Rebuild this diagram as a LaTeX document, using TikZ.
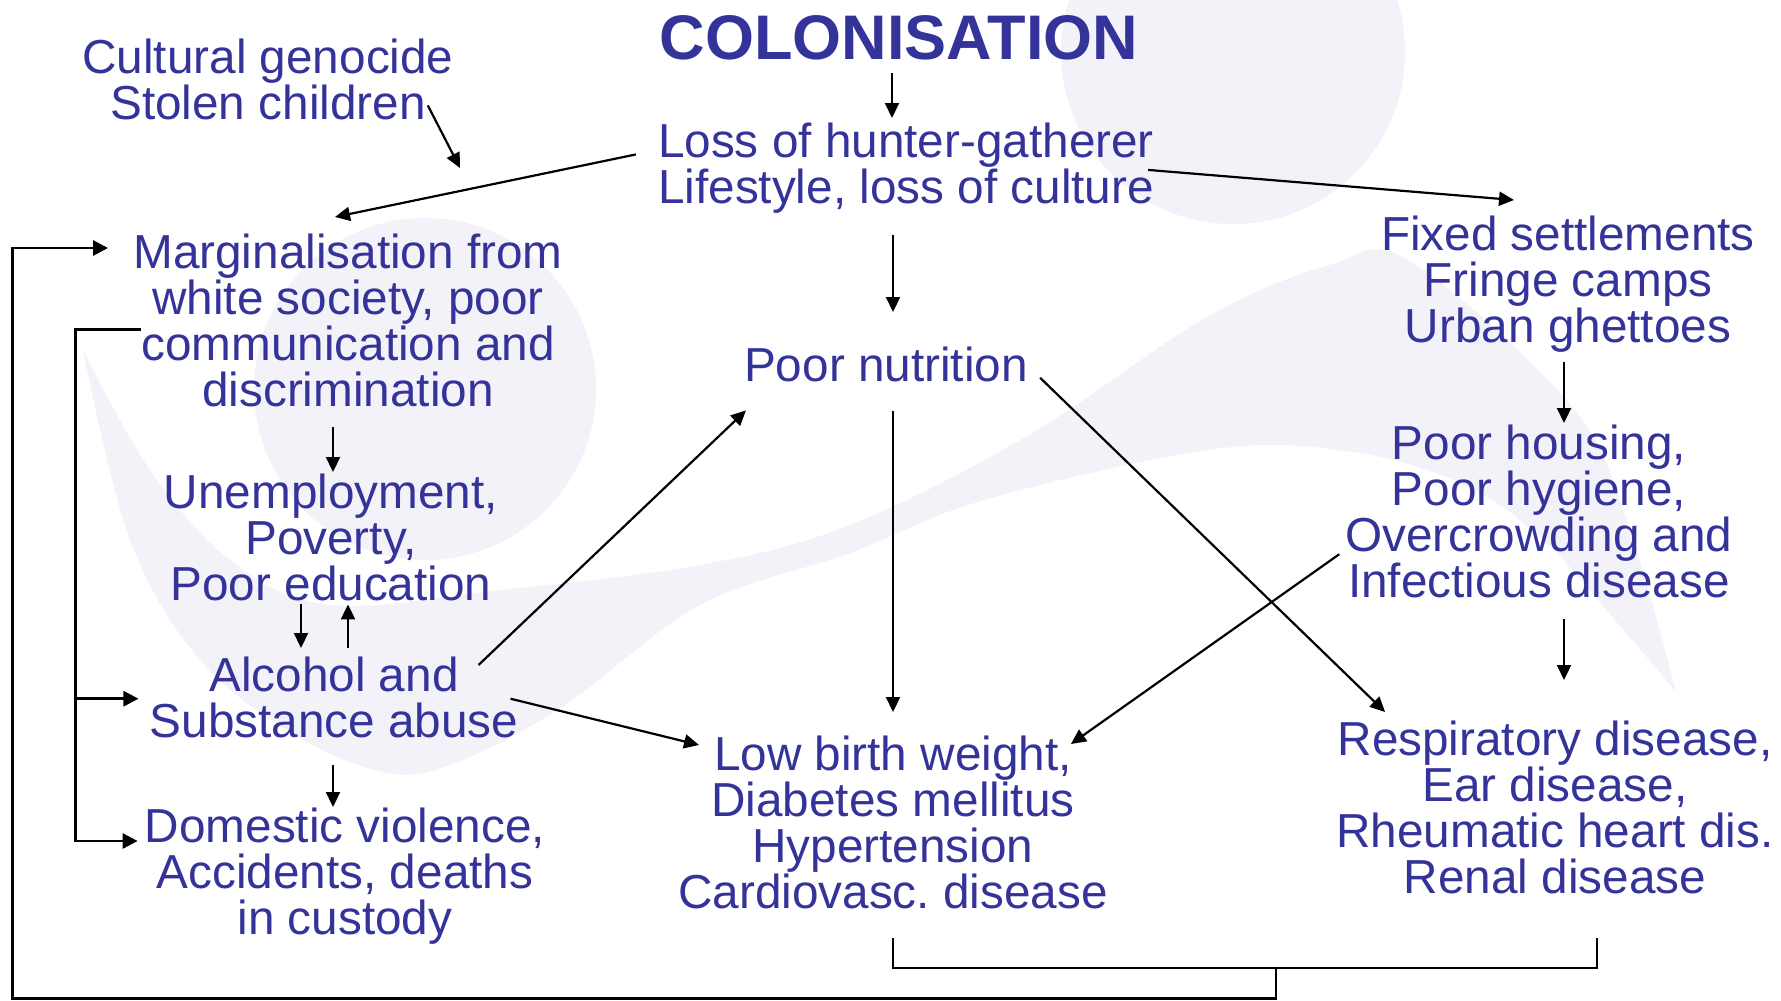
\documentclass[tikz,border=0pt]{standalone}
\usepackage{fontspec}
\setmainfont{Liberation Sans}
\usetikzlibrary{arrows.meta,calc}
\definecolor{blueT}{RGB}{51,51,153}
\definecolor{bgc}{RGB}{243,242,249}
\frenchspacing
\begin{document}
\begin{tikzpicture}[x=1pt,y=-1pt,
  txt/.style={font=\fontsize{47.7}{46}\selectfont, text=blueT, align=center, inner sep=0pt, anchor=north},
  arr/.style={line width=2.2pt, -{Triangle[length=15pt,width=14pt]}},
  brk/.style={line width=2.8pt},
  brkarr/.style={line width=2.8pt, -{Triangle[length=15pt,width=15pt]}}]
\useasboundingbox (0,0) rectangle (1781,1001);
\fill[white] (0,0) rectangle (1781,1001);
% background watermark
\fill[bgc] (1233,52) circle (172);
\fill[bgc] (425,389) circle (171);
\fill[bgc] plot[smooth, tension=0.6] coordinates {(83,350) (150,470) (230,560) (330,605) (500,590) (700,565) (850,525) (1029,435) (1207,317) (1330,265) (1408,260) (1569,403) (1626,518) (1676,692)}
  -- plot[smooth, tension=0.6] coordinates {(1676,692) (1626,633) (1540,537) (1454,480) (1339,450) (1207,450) (984,500) (850,553) (700,605) (562,707) (450,765) (384,772) (295,735) (200,660) (130,540) (83,350)} -- cycle;

% nodes
\node[txt, font=\fontsize{63}{63}\selectfont\bfseries] (title) at (899,15) {COLONISATION};
\node[txt] (cult) at (268,39) {Cultural genocide\\Stolen children};
\node[txt] (loss) at (906,123) {Loss of hunter-gatherer\\Lifestyle, loss of culture};
\node[txt] (marg) at (348,234) {Marginalisation from\\white society, poor\\communication and\\discrimination};
\node[txt] (pn) at (886,347) {Poor nutrition};
\node[txt] (fixed) at (1568,216) {Fixed settlements\\Fringe camps\\Urban ghettoes};
\node[txt] (unemp) at (331,474) {Unemployment,\\Poverty,\\Poor education};
\node[txt] (housing) at (1539,425) {Poor housing,\\Poor hygiene,\\Overcrowding and\\Infectious disease};
\node[txt] (alc) at (334,657) {Alcohol and\\Substance abuse};
\node[txt] (lbw) at (893,736) {Low birth weight,\\Diabetes mellitus\\Hypertension\\Cardiovasc. disease};
\node[txt] (resp) at (1555,721) {Respiratory disease,\\Ear disease,\\Rheumatic heart dis.\\Renal disease};
\node[txt] (dom) at (345,808) {Domestic violence,\\Accidents, deaths\\in custody};

\coordinate (cultend) at (460,168);
\coordinate (loopA) at (1276,968);
\coordinate (loopB) at (12.5,998.5);

% connectors
\draw[arr] ($(title.south)+(-7,13)$) -- ($(loss.north)+(-14,-5)$);
\draw[arr] ($(cult.south east)+(-26,-15)$) -- (cultend);
\draw[arr] ($(loss.west)+(-22,-14)$) -- ($(marg.north)+(-13,-17)$);
\draw[arr] ($(loss.east)+(-6,1.5)$) -- ($(fixed.north)+(-54,-16)$);
\draw[arr] ($(loss.south)+(-13,21)$) -- ($(pn.north)+(7,-35)$);
\draw[arr] ($(marg.south)+(-15,20)$) -- ($(unemp.north)+(2,-2)$);
\draw[arr] ($(unemp.south)+(-30,3)$) -- ($(alc.north)+(-33,-9)$);
\draw[arr] ($(alc.north)+(14,-9)$) -- ($(unemp.south)+(17,3)$);
\draw[arr] ($(alc.north east)+(-40,8)$) -- ($(pn.south west)+(2,28)$);
\draw[arr] ($(alc.east)+(-8,1)$) -- ($(lbw.north west)+(21,9)$);
\draw[arr] ($(alc.south)+(-1,27)$) -- ($(dom.north)+(-12,-1)$);
\draw[arr] ($(pn.south)+(7,29)$) -- ($(lbw.north)+(0,-24)$);
\draw[arr] ($(pn.east)+(12,13)$) -- ($(resp.north west)+(49,-9)$);
\draw[arr] ($(housing.west)+(-6,42.5)$) -- ($(lbw.north east)+(-37,8)$);
\draw[arr] ($(fixed.south)+(-4,9)$) -- ($(housing.north)+(25,-2)$);
\draw[arr] ($(housing.south)+(25,21)$) -- ($(resp.north)+(9,-41)$);

% brackets and feedback loops
\draw[brk] ($(lbw.south)+(0,29)$) |- (loopA) -| ($(resp.south)+(42,44)$);
\draw[brkarr] (loopA) |- (loopB) |- ($(marg.north west)+(-25,14)$);
\draw[brkarr] ($(marg.west)+(8,8.5)$) -| ($(dom.north west)+(-69,33)$) -- ($(dom.north west)+(-7,33)$);
\draw[brkarr] ($(alc.west)+(-73,1)$) -- ($(alc.west)+(-11,1)$);
\end{tikzpicture}
\end{document}
